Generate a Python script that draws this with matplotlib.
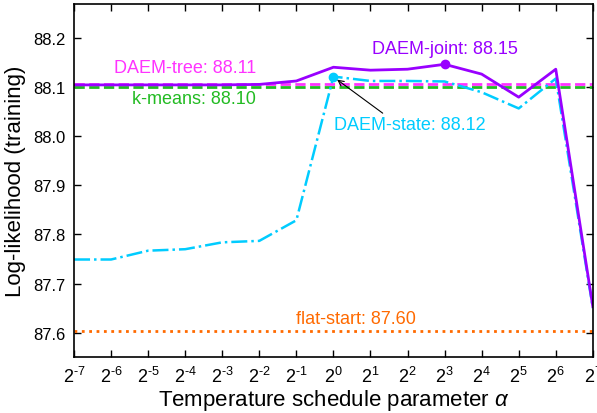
import matplotlib
matplotlib.use('Agg')
import matplotlib.pyplot as plt
import numpy as np

plt.rcParams['font.family'] = ['Liberation Sans', 'DejaVu Sans']
plt.rcParams['mathtext.fontset'] = 'custom'
plt.rcParams['mathtext.rm'] = 'Liberation Sans'
plt.rcParams['mathtext.it'] = 'Liberation Sans:italic'
plt.rcParams['axes.unicode_minus'] = False

# exponents of the temperature schedule parameter (alpha = 2^k)
exps = list(range(-7, 8))
daem_joint = [88.105, 88.105, 88.105, 88.105, 88.105, 88.106, 88.113, 88.141,
              88.135, 88.137, 88.147, 88.127, 88.080, 88.137, 87.653]
daem_state = [87.749, 87.749, 87.767, 87.770, 87.784, 87.787, 87.829, 88.122,
              88.113, 88.113, 88.112, 88.090, 88.057, 88.118, 87.650]
daem_tree = 88.107
kmeans = 88.100
flat_start = 87.603

fig, ax = plt.subplots(figsize=(5.97, 4.14), dpi=100)

ax.axhline(flat_start, color='#ff6a00', ls=':', lw=2)
ax.axhline(kmeans, color='#22bb22', ls='--', lw=2)
ax.axhline(daem_tree, color='#ff33ff', ls='--', lw=2)
ax.plot(exps, daem_state, color='#00ccff', ls='-.', lw=1.8)
ax.plot(exps, daem_joint, color='#9900ff', ls='-', lw=2)
ax.plot(exps[7], daem_state[7], 'o', color='#00ccff', ms=6)
ax.plot(exps[10], daem_joint[10], 'o', color='#9900ff', ms=6)

ax.text(-4.0, 88.14, 'DAEM-tree: 88.11', color='#ff33ff', fontsize=13, ha='center', va='center')
ax.text(-3.76, 88.077, 'k-means: 88.10', color='#22bb22', fontsize=13, ha='center', va='center')
ax.text(3.0, 88.179, 'DAEM-joint: 88.15', color='#9900ff', fontsize=13, ha='center', va='center')
ax.text(2.06, 88.025, 'DAEM-state: 88.12', color='#00ccff', fontsize=13, ha='center', va='center')
ax.text(0.61, 87.628, 'flat-start: 87.60', color='#ff6a00', fontsize=13, ha='center', va='center')
ax.annotate('', xy=(0.04, 88.119), xytext=(1.39, 88.044),
            arrowprops=dict(arrowstyle='->', color='black', lw=0.8))

ax.set_xlim(-7, 7)
ax.set_ylim(87.55, 88.27)
ax.set_xticks(exps)
ax.set_xticklabels([r'$2^{\text{%d}}$' % k for k in exps], fontsize=13)
ax.set_yticks([87.6, 87.7, 87.8, 87.9, 88.0, 88.1, 88.2])
ax.set_yticklabels(['87.6', '87.7', '87.8', '87.9', '88.0', '88.1', '88.2'], fontsize=12)
ax.tick_params(direction='in', top=True, right=True, length=5, width=1, pad=6)
for s in ax.spines.values():
    s.set_linewidth(1.2)

ax.set_xlabel(r'Temperature schedule parameter $\alpha$', fontsize=16, labelpad=1)
ax.set_ylabel('Log-likelihood (training)', fontsize=16, labelpad=5)

fig.subplots_adjust(left=0.124, right=0.993, top=0.988, bottom=0.135)
fig.savefig('out.png', dpi=100)
